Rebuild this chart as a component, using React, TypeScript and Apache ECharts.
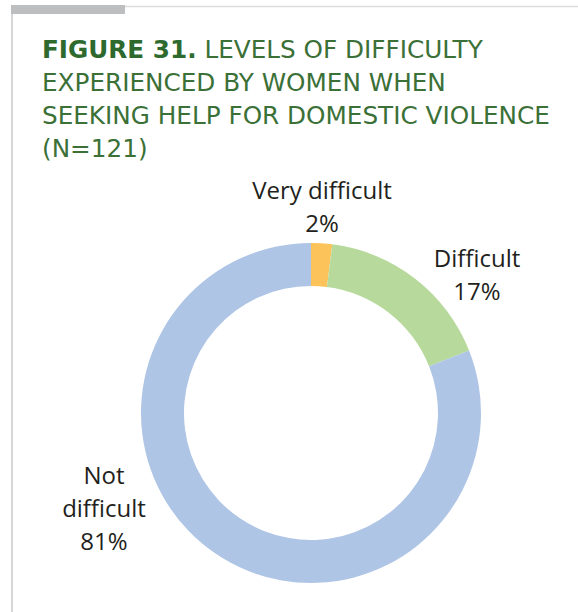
import React, { useEffect, useRef } from "react";
import * as echarts from "echarts";

const categories = ["Very difficult", "Difficult", "Not\ndifficult"];
const values = [2, 17, 81];
const colors = ["#fcc35b", "#b7da9c", "#afc5e6"];
const titleLines = [
  "LEVELS OF DIFFICULTY",
  "EXPERIENCED BY WOMEN WHEN",
  "SEEKING HELP FOR DOMESTIC VIOLENCE",
  "(N=121)",
];
const figureLabel = "FIGURE 31.";

export default function App() {
  const ref = useRef<HTMLDivElement>(null);
  useEffect(() => {
    if (!ref.current) return;
    const chart = echarts.init(ref.current, undefined, { renderer: "svg" });
    const labelPos = [
      { x: 322, y: 206 },
      { x: 477, y: 274 },
      { x: 104, y: 507 },
    ];
    const titleText =
      `{b|${figureLabel}}{n| ${titleLines[0]}}\n` +
      titleLines.slice(1).map((l) => `{n|${l}}`).join("\n");
    chart.setOption({
      animation: false,
      backgroundColor: "#ffffff",
      title: {
        text: titleText,
        left: 42,
        top: 33,
        padding: 0,
        textStyle: {
          fontFamily: "DejaVu Sans",
          fontSize: 24.7,
          lineHeight: 33,
          color: "#3b7037",
          rich: {
            b: { fontFamily: "DejaVu Sans", fontSize: 24.7, fontWeight: "bold", color: "#2e6a2e", lineHeight: 33 },
            n: { fontFamily: "DejaVu Sans", fontSize: 24.7, fontWeight: "normal", color: "#3b7037", lineHeight: 33 },
          },
        },
      },
      graphic: [
        { type: "line", shape: { x1: 11, y1: 6.5, x2: 578, y2: 6.5 }, style: { stroke: "#dcdcdc", lineWidth: 1.5 } },
        { type: "line", shape: { x1: 12, y1: 6, x2: 12, y2: 612 }, style: { stroke: "#d6d6d6", lineWidth: 2 } },
        { type: "rect", shape: { x: 11, y: 5, width: 114, height: 9 }, style: { fill: "#bcbec0" } },
      ],
      series: [
        {
          type: "pie",
          center: [311, 413],
          radius: [127, 170],
          startAngle: 90,
          clockwise: true,
          silent: true,
          data: categories.map((name, i) => ({
            name,
            value: values[i],
            itemStyle: { color: colors[i] },
          })),
          label: {
            show: true,
            position: "outside",
            formatter: (p: any) => `${p.name}\n${p.value}%`,
            fontFamily: "Open Sans",
            fontSize: 24,
            lineHeight: 33,
            color: "#231f20",
            align: "center",
            overflow: "none",
            edgeDistance: 0,
          },
          labelLine: { show: false },
          labelLayout: (p: any) => ({
            x: labelPos[p.dataIndex].x,
            y: labelPos[p.dataIndex].y,
            align: "center",
            verticalAlign: "middle",
          }),
        },
      ],
    });
    return () => chart.dispose();
  }, []);
  return (
    <div
      ref={ref}
      style={{ position: "absolute", left: 0, top: 0, width: 578, height: 612 }}
    />
  );
}
